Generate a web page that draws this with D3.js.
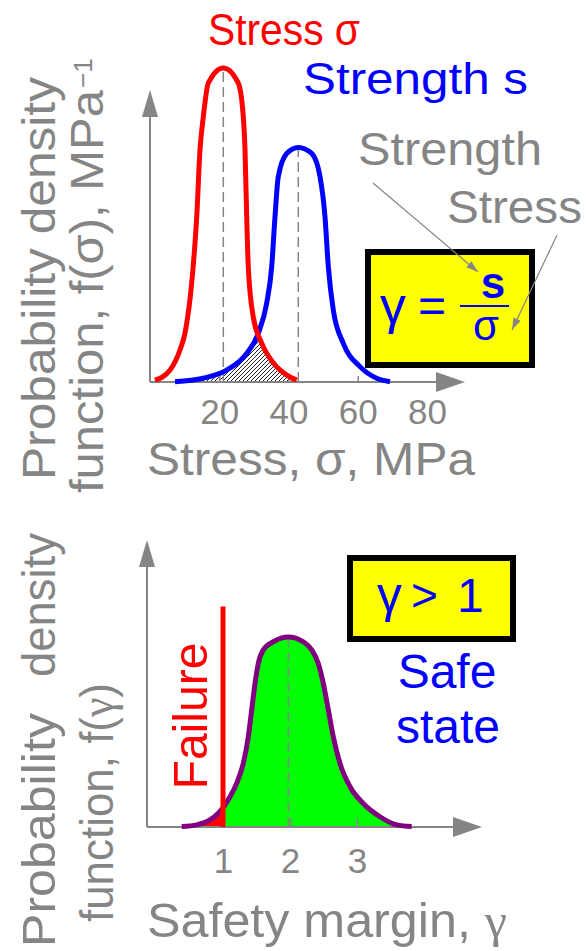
<!DOCTYPE html>
<html><head><meta charset="utf-8">
<script src="https://cdn.jsdelivr.net/npm/d3@7"></script>
<style>
html,body{margin:0;padding:0;background:#fff;}
svg{display:block;}
text{font-family:"Liberation Sans",Arial,sans-serif;}
</style>
</head><body>
<svg id="c" width="587" height="951"></svg>
<script>
// ---------- data ----------
// Upper chart: stress and strength densities (relative to stress peak)
const stressValues   = [1.44,5.78,8.66,10.11,12.04,13.49,14.44,15.39,16.84,21.17,25.5,26.95,27.44,27.93,28.39,29.83,32.26,35.6,40.4,42.37];
const stressDensity  = [0.006,0.038,0.102,0.156,0.315,0.525,0.739,0.844,0.952,1.0,0.952,0.844,0.739,0.525,0.366,0.207,0.124,0.061,0.016,0.006];
const strengthValues = [7.22,15.39,22.15,27.93,31.28,33.7,35.15,36.1,37.05,39.48,42.83,46.7,49.1,50.54,51.5,52.94,55.83,60.65,65.47,69.31];
const strengthDensity= [0.001,0.012,0.038,0.091,0.155,0.251,0.367,0.526,0.654,0.728,0.747,0.728,0.654,0.526,0.367,0.229,0.123,0.049,0.012,0.001];
const stressTicks    = [20,40,60,80];
// Lower chart: safety margin density (relative to peak)
const marginValues   = [0.384,0.607,0.806,0.93,1.104,1.204,1.303,1.378,1.428,1.478,1.527,1.601,1.751,1.975,2.199,2.324,2.422,2.497,2.572,2.646,2.746,2.896,3.094,3.343,3.593,3.816];
const marginDensity  = [0.002,0.011,0.037,0.072,0.159,0.23,0.335,0.475,0.616,0.756,0.861,0.932,0.975,1.0,0.975,0.932,0.861,0.756,0.616,0.475,0.335,0.212,0.124,0.054,0.011,0.002];
const marginTicks    = [1,2,3];
const failureMargin  = 1;
const failureLineTop = 1.16;

// ---------- setup ----------
const GRAY = "#858585", RED = "#ff0000", BLUE = "#0000ff", PURPLE = "#800080";
const SANS = "'Liberation Sans', Arial, sans-serif", SERIF = "'Liberation Serif', 'Times New Roman', serif";
const svg = d3.select("#c");
const defs = svg.append("defs");

defs.append("pattern").attr("id","hatch").attr("patternUnits","userSpaceOnUse")
  .attr("width",4).attr("height",4)
  .append("path").attr("d","M-1,1 l2,-2 M0,4 l4,-4 M3,5 l2,-2")
  .attr("stroke","#222").attr("stroke-width",1);

defs.append("marker").attr("id","ah").attr("viewBox","0 0 12 8")
  .attr("refX",12).attr("refY",4).attr("markerWidth",13).attr("markerHeight",8)
  .attr("markerUnits","userSpaceOnUse").attr("orient","auto")
  .append("path").attr("d","M0,0 L12,4 L0,8 Z").attr("fill",GRAY);

const stress   = stressValues.map((v,i)=>({x:v,y:stressDensity[i]}));
const strength = strengthValues.map((v,i)=>({x:v,y:strengthDensity[i]}));
const margin   = marginValues.map((v,i)=>({x:v,y:marginDensity[i]}));

// ---------- upper chart ----------
const xTop = d3.scaleLinear().domain([0,80]).range([150,427]);
const yTop = d3.scaleLinear().domain([0,1]).range([382,68]);
const lineTop = d3.line().x(d=>xTop(d.x)).y(d=>yTop(d.y)).curve(d3.curveMonotoneX);
const areaTop = d3.area().x(d=>xTop(d.x)).y0(yTop(0)).y1(d=>yTop(d.y)).curve(d3.curveMonotoneX);

defs.append("clipPath").attr("id","underStress").append("path").attr("d",areaTop(stress));

// overlap (interference) hatch
svg.append("path").attr("d",areaTop(strength)).attr("fill","url(#hatch)")
  .attr("clip-path","url(#underStress)");

// axis ticks + labels
const axT = svg.append("g").attr("transform",`translate(0,${yTop(0)})`)
  .call(d3.axisBottom(xTop).tickValues(stressTicks).tickSizeInner(-6).tickSizeOuter(0).tickPadding(17));
axT.select(".domain").remove();
axT.attr("font-family",SANS).attr("font-size",35);
axT.selectAll("line").attr("stroke",GRAY).attr("stroke-width",1.5)
  .attr("display",d=>d===80?"none":null);
axT.selectAll("text").attr("fill",GRAY);

// dashed lines at peaks
const peakS = stress.reduce((a,b)=>b.y>a.y?b:a);
const peakR = strength.reduce((a,b)=>b.y>a.y?b:a);
[peakS,peakR].forEach(p=>{
  svg.append("line").attr("x1",xTop(p.x)).attr("x2",xTop(p.x))
    .attr("y1",yTop(0)).attr("y2",yTop(p.y))
    .attr("stroke",GRAY).attr("stroke-width",1.5).attr("stroke-dasharray","10,5");
});

// axes with arrows
function axes(x0,y0,xEnd,yEnd){
  svg.append("line").attr("x1",x0).attr("y1",y0).attr("x2",xEnd-20).attr("y2",y0)
    .attr("stroke",GRAY).attr("stroke-width",2);
  svg.append("line").attr("x1",x0).attr("y1",y0).attr("x2",x0).attr("y2",yEnd+20)
    .attr("stroke",GRAY).attr("stroke-width",2);
  svg.append("path").attr("d",`M${xEnd},${y0} L${xEnd-29},${y0-10} L${xEnd-29},${y0+10} Z`).attr("fill",GRAY);
  svg.append("path").attr("d",`M${x0},${yEnd} L${x0-8},${yEnd+27} L${x0+8},${yEnd+27} Z`).attr("fill",GRAY);
}
axes(150,yTop(0),465,90);

// curves
svg.append("path").attr("d",lineTop(strength)).attr("fill","none").attr("stroke",BLUE).attr("stroke-width",5);
svg.append("path").attr("d",lineTop(stress)).attr("fill","none").attr("stroke",RED).attr("stroke-width",5);

// titles
svg.append("text").attr("x",208).attr("y",45).attr("fill",RED).attr("font-size",44)
  .attr("textLength",152).attr("lengthAdjust","spacingAndGlyphs").text("Stress σ");
svg.append("text").attr("x",303).attr("y",94).attr("fill",BLUE).attr("font-size",44)
  .attr("textLength",225).attr("lengthAdjust","spacingAndGlyphs").text("Strength s");

// annotation labels and arrows
svg.append("text").attr("x",358).attr("y",165).attr("fill",GRAY).attr("font-size",46)
  .attr("textLength",184).attr("lengthAdjust","spacingAndGlyphs").text("Strength");
svg.append("text").attr("x",447).attr("y",223).attr("fill",GRAY).attr("font-size",46)
  .attr("textLength",135).attr("lengthAdjust","spacingAndGlyphs").text("Stress");

// formula box
svg.append("rect").attr("x",368).attr("y",252).attr("width",164).attr("height",113)
  .attr("fill","#ffff00").attr("stroke","#000").attr("stroke-width",6);
svg.append("text").attr("x",380).attr("y",323).attr("fill",BLUE).attr("font-size",52)
  .attr("font-family",SERIF).text("γ");
svg.append("text").attr("x",418).attr("y",322).attr("fill",BLUE).attr("font-size",48).text("=");
svg.append("line").attr("x1",460).attr("x2",509).attr("y1",306).attr("y2",306)
  .attr("stroke",BLUE).attr("stroke-width",2);
svg.append("text").attr("x",493).attr("y",298).attr("fill",BLUE).attr("font-size",44)
  .attr("font-weight","bold").attr("text-anchor","middle").text("s");
svg.append("text").attr("x",486).attr("y",340).attr("fill",BLUE).attr("font-size",42)
  .attr("text-anchor","middle").text("σ");

svg.append("line").attr("x1",373).attr("y1",183).attr("x2",478).attr("y2",272)
  .attr("stroke",GRAY).attr("stroke-width",1.2).attr("marker-end","url(#ah)");
svg.append("line").attr("x1",557).attr("y1",235).attr("x2",512).attr("y2",330)
  .attr("stroke",GRAY).attr("stroke-width",1.2).attr("marker-end","url(#ah)");

// axis titles
svg.append("text").attr("x",147).attr("y",475).attr("fill",GRAY).attr("font-size",46)
  .attr("textLength",328).attr("lengthAdjust","spacingAndGlyphs").text("Stress, σ, MPa");
svg.append("text").attr("transform","translate(55,480) rotate(-90)").attr("fill",GRAY)
  .attr("font-size",46).attr("textLength",403).attr("lengthAdjust","spacingAndGlyphs")
  .text("Probability density");
svg.append("text").attr("transform","translate(103,493) rotate(-90)").attr("fill",GRAY)
  .attr("font-size",46).attr("textLength",403).attr("lengthAdjust","spacingAndGlyphs")
  .text("function, f(σ), MPa");
svg.append("text").attr("transform","translate(92,88) rotate(-90)").attr("fill",GRAY)
  .attr("font-size",26).text("−1");

// ---------- lower chart ----------
const xBot = d3.scaleLinear().domain([1,3]).range([223,357]);
const yBot = d3.scaleLinear().domain([0,1]).range([827,637]);
const lineBot = d3.line().x(d=>xBot(d.x)).y(d=>yBot(d.y)).curve(d3.curveMonotoneX);
const areaBot = d3.area().x(d=>xBot(d.x)).y0(yBot(0)).y1(d=>yBot(d.y)).curve(d3.curveMonotoneX);

defs.append("clipPath").attr("id","safe").append("rect")
  .attr("x",xBot(failureMargin)).attr("y",0).attr("width",587).attr("height",951);
defs.append("clipPath").attr("id","fail").append("rect")
  .attr("x",0).attr("y",0).attr("width",xBot(failureMargin)).attr("height",951);

svg.append("path").attr("d",areaBot(margin)).attr("fill","#00ff00").attr("clip-path","url(#safe)");
svg.append("path").attr("d",areaBot(margin)).attr("fill",RED).attr("clip-path","url(#fail)");

const axB = svg.append("g").attr("transform",`translate(0,${yBot(0)})`)
  .call(d3.axisBottom(xBot).tickValues(marginTicks).tickFormat(d3.format("d"))
    .tickSizeInner(-9).tickSizeOuter(0).tickPadding(21));
axB.select(".domain").remove();
axB.attr("font-family",SANS).attr("font-size",35);
axB.selectAll("line").attr("stroke",GRAY).attr("stroke-width",1.5);
axB.selectAll("text").attr("fill",GRAY);

const peakM = margin.reduce((a,b)=>b.y>a.y?b:a);
svg.append("line").attr("x1",xBot(peakM.x)).attr("x2",xBot(peakM.x))
  .attr("y1",yBot(0)).attr("y2",yBot(peakM.y))
  .attr("stroke",GRAY).attr("stroke-width",1.5).attr("stroke-dasharray","10,5");

axes(147,yBot(0),482,540);

svg.append("path").attr("d",lineBot(margin)).attr("fill","none").attr("stroke",PURPLE).attr("stroke-width",5);

svg.append("line").attr("x1",xBot(failureMargin)).attr("x2",xBot(failureMargin))
  .attr("y1",yBot(0)).attr("y2",yBot(failureLineTop)).attr("stroke",RED).attr("stroke-width",5);

svg.append("text").attr("transform","translate(207,716) rotate(-90)").attr("fill",RED)
  .attr("font-size",48).attr("text-anchor","middle").attr("textLength",147)
  .attr("lengthAdjust","spacingAndGlyphs").text("Failure");

// condition box
svg.append("rect").attr("x",350).attr("y",558).attr("width",163).attr("height",81)
  .attr("fill","#ffff00").attr("stroke","#000").attr("stroke-width",6);
svg.append("text").attr("x",377).attr("y",612).attr("fill",BLUE).attr("font-size",50)
  .attr("font-family",SERIF).text("γ");
svg.append("text").attr("x",411).attr("y",611).attr("fill",BLUE).attr("font-size",46).text(">");
svg.append("text").attr("x",457).attr("y",612).attr("fill",BLUE).attr("font-size",48).text("1");

svg.append("text").attr("x",447).attr("y",688).attr("fill",BLUE).attr("font-size",48)
  .attr("text-anchor","middle").text("Safe");
svg.append("text").attr("x",448).attr("y",743).attr("fill",BLUE).attr("font-size",48)
  .attr("text-anchor","middle").text("state");

// axis titles
const tb = svg.append("text").attr("x",147).attr("y",937).attr("fill",GRAY).attr("font-size",48)
  .attr("textLength",360).attr("lengthAdjust","spacingAndGlyphs");
tb.append("tspan").text("Safety margin, ");
tb.append("tspan").attr("font-family",SERIF).text("γ");

svg.append("text").attr("transform","translate(55,947) rotate(-90)").attr("fill",GRAY)
  .attr("font-size",46).attr("textLength",234).attr("lengthAdjust","spacingAndGlyphs").text("Probability");
svg.append("text").attr("transform","translate(55,677) rotate(-90)").attr("fill",GRAY)
  .attr("font-size",46).attr("textLength",144).attr("lengthAdjust","spacingAndGlyphs").text("density");
const fl = svg.append("text").attr("transform","translate(113,922) rotate(-90)").attr("fill",GRAY)
  .attr("font-size",46).attr("textLength",239).attr("lengthAdjust","spacingAndGlyphs");
fl.append("tspan").text("function, f(");
fl.append("tspan").attr("font-family",SERIF).text("γ");
fl.append("tspan").text(")");
</script>
</body></html>
